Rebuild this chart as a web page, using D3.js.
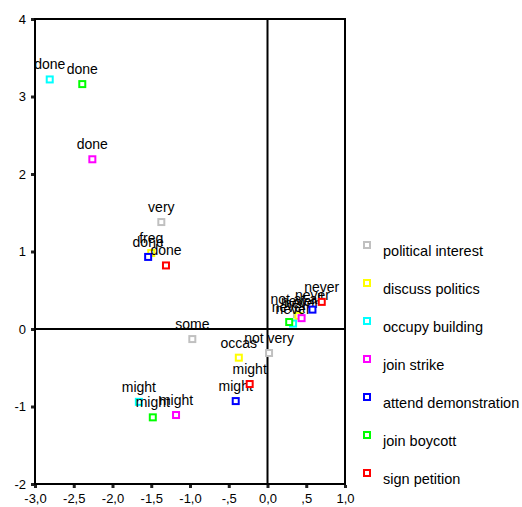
<!DOCTYPE html>
<html>
<head>
<meta charset="utf-8">
<script src="https://cdn.jsdelivr.net/npm/d3@7"></script>
<style>
  html, body { margin: 0; padding: 0; background: #fff; }
  svg { display: block; font-family: "Liberation Sans", Arial, sans-serif; }
</style>
</head>
<body>
<svg id="chart" width="522" height="507"></svg>
<script>
// Series shown in the legend, in drawing order
const seriesNames = [
  "political interest", "discuss politics", "occupy building",
  "join strike", "attend demonstration", "join boycott", "sign petition"
];
const seriesColors = ["#c0c0c0", "#ffff00", "#00ffff", "#ff00ff", "#0000ff", "#00ff00", "#ff0000"];

// Category labels for each series' points
const pointLabels = [
  ["very", "some", "not very", "not at all"],
  ["freq", "occas", "never"],
  ["done", "might", "never"],
  ["done", "might", "never"],
  ["done", "might", "never"],
  ["done", "might", "never"],
  ["done", "might", "never"]
];

// Dimension 1 (horizontal) coordinates
const dim1 = [
  [-1.37, -0.97, 0.02, 0.38],
  [-1.50, -0.37, 0.40],
  [-2.81, -1.66, 0.33],
  [-2.26, -1.18, 0.44],
  [-1.54, -0.41, 0.58],
  [-2.39, -1.48, 0.28],
  [-1.31, -0.23, 0.70]
];

// Dimension 2 (vertical) coordinates
const dim2 = [
  [1.38, -0.13, -0.31, 0.19],
  [0.98, -0.37, 0.17],
  [3.22, -0.94, 0.07],
  [2.19, -1.11, 0.14],
  [0.93, -0.93, 0.25],
  [3.16, -1.14, 0.09],
  [0.82, -0.71, 0.35]
];

const xTicks = [-3, -2.5, -2, -1.5, -1, -0.5, 0, 0.5, 1];
const xTickLabels = ["-3,0", "-2,5", "-2,0", "-1,5", "-1,0", "-,5", "0,0", ",5", "1,0"];
const yTicks = [-2, -1, 0, 1, 2, 3, 4];
const yTickLabels = ["-2", "-1", "0", "1", "2", "3", "4"];

const svg = d3.select("#chart");
const plot = { left: 35, right: 345, top: 19, bottom: 484 };

const x = d3.scaleLinear().domain([-3, 1]).range([plot.left, plot.right]);
const y = d3.scaleLinear().domain([-2, 4]).range([plot.bottom, plot.top]);
const color = d3.scaleOrdinal().domain(seriesNames).range(seriesColors);

// Axes with square tick marks and comma decimals
const xAxis = d3.axisBottom(x).tickValues(xTicks)
  .tickFormat((d, i) => xTickLabels[i]).tickSize(0).tickPadding(10);
const yAxis = d3.axisLeft(y).tickValues(yTicks)
  .tickFormat((d, i) => yTickLabels[i]).tickSize(0).tickPadding(9);

const gx = svg.append("g").attr("transform", `translate(0,${plot.bottom})`).call(xAxis);
const gy = svg.append("g").attr("transform", `translate(${plot.left},0)`).call(yAxis);
[gx, gy].forEach(g => {
  g.select(".domain").remove();
  g.selectAll("text").attr("font-size", 13).attr("fill", "#000")
    .attr("font-family", "Liberation Sans, Arial, sans-serif");
});
gx.selectAll(".tick").append("rect")
  .attr("x", -1.5).attr("y", 1).attr("width", 3).attr("height", 3).attr("fill", "#222");
gy.selectAll(".tick").append("rect")
  .attr("x", -4).attr("y", -1.5).attr("width", 3).attr("height", 3).attr("fill", "#222");

// Frame and origin lines
svg.append("rect")
  .attr("x", plot.left).attr("y", plot.top)
  .attr("width", plot.right - plot.left).attr("height", plot.bottom - plot.top)
  .attr("fill", "none").attr("stroke", "#000").attr("stroke-width", 2);
svg.append("line")
  .attr("x1", x(0)).attr("x2", x(0)).attr("y1", plot.top).attr("y2", plot.bottom)
  .attr("stroke", "#000").attr("stroke-width", 2);
svg.append("line")
  .attr("x1", plot.left).attr("x2", plot.right).attr("y1", y(0)).attr("y2", y(0))
  .attr("stroke", "#000").attr("stroke-width", 2);

// Category points with labels above them
const markerSize = 6;
seriesNames.forEach((name, s) => {
  const pts = pointLabels[s].map((label, i) => ({ label, vx: dim1[s][i], vy: dim2[s][i] }));
  const g = svg.append("g").attr("class", "series");
  g.selectAll("rect").data(pts).join("rect")
    .attr("x", d => x(d.vx) - markerSize / 2)
    .attr("y", d => y(d.vy) - markerSize / 2)
    .attr("width", markerSize).attr("height", markerSize)
    .attr("fill", "#fff").attr("stroke", color(name)).attr("stroke-width", 2);
  g.selectAll("text").data(pts).join("text")
    .attr("x", d => x(d.vx))
    .attr("y", d => y(d.vy) - 10)
    .attr("text-anchor", "middle")
    .attr("font-size", 14)
    .attr("fill", "#000")
    .text(d => d.label);
});

// Legend
const legend = svg.append("g").attr("transform", "translate(367,245)");
const items = legend.selectAll("g").data(seriesNames).join("g")
  .attr("transform", (d, i) => `translate(0,${i * 38})`);
items.append("rect")
  .attr("x", -3).attr("y", -3).attr("width", 6).attr("height", 6)
  .attr("fill", "#fff").attr("stroke", d => color(d)).attr("stroke-width", 2);
items.append("text")
  .attr("x", 16).attr("y", 11)
  .attr("font-size", 14.5).attr("fill", "#000")
  .text(d => d);
</script>
</body>
</html>
